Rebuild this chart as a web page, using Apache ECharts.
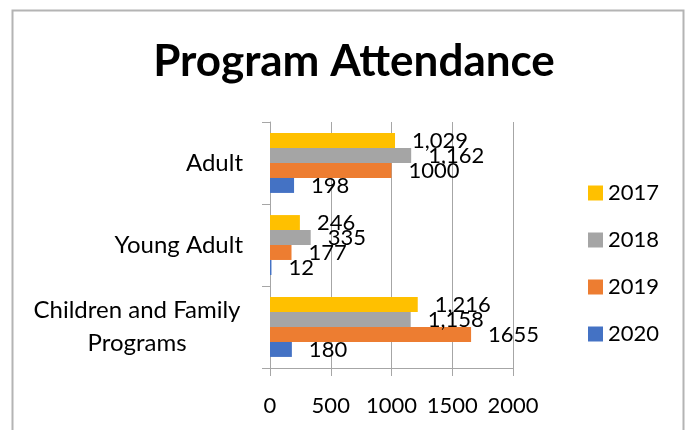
<!DOCTYPE html>
<html>
<head>
<meta charset="utf-8">
<script src="https://cdn.jsdelivr.net/npm/echarts@6/dist/echarts.min.js"></script>
<style>
  html, body { margin: 0; padding: 0; background: #fff; }
  #chart { width: 688px; height: 430px; }
</style>
</head>
<body>
<div id="chart"></div>
<script>
// categories, bottom to top (as drawn on the category axis)
const categories = ["Children and Family Programs", "Young Adult", "Adult"];
const years = ["2017", "2018", "2019", "2020"];
const colors = { "2017": "#FFC000", "2018": "#A5A5A5", "2019": "#ED7D31", "2020": "#4472C4" };

const values2017 = [1216, 246, 1029];
const values2018 = [1158, 335, 1162];
const values2019 = [1655, 177, 1000];
const values2020 = [180, 12, 198];

// data labels as they are written in the picture
const labels2017 = ["1,216", "246", "1,029"];
const labels2018 = ["1,158", "335", "1,162"];
const labels2019 = ["1655", "177", "1000"];
const labels2020 = ["180", "12", "198"];

const xTicks = [0, 500, 1000, 1500, 2000];

const font = "Lato, 'Open Sans', sans-serif";
const axisGray = "#A6A6A6";

function makeSeries(name, data, labels) {
    return {
        name: name,
        type: "bar",
        data: data,
        barGap: "0%",
        barCategoryGap: "27%",
        itemStyle: { color: colors[name] },
        label: {
            show: true,
            position: "right",
            distance: 17,
            color: "#000",
            fontFamily: font,
            fontSize: 22,
            formatter: (p) => labels[p.dataIndex],
        },
    };
}

const chart = echarts.init(document.getElementById("chart"));
chart.setOption({
    animation: false,
    title: {
        text: "Program Attendance",
        left: 349,
        textAlign: "center",
        top: 35,
        textStyle: { fontFamily: font, fontSize: 44, fontWeight: "bold", color: "#000" },
    },
    graphic: [
        {
            type: "rect",
            shape: { x: 12.5, y: 10.5, width: 671, height: 440 },
            style: { fill: "none", stroke: "#B4B4B4", lineWidth: 2 },
            silent: true,
        },
    ],
    legend: {
        data: years,
        orient: "vertical",
        left: 583,
        top: 177,
        itemWidth: 15,
        itemHeight: 15,
        itemGap: 25,
        icon: "rect",
        textStyle: { fontFamily: font, fontSize: 22, color: "#000" },
    },
    grid: { left: 270, right: 175, top: 122, bottom: 62, containLabel: false },
    xAxis: {
        type: "value",
        min: xTicks[0],
        max: xTicks[xTicks.length - 1],
        interval: 500,
        axisLine: { show: true, lineStyle: { color: axisGray } },
        axisTick: { show: true, length: 8, lineStyle: { color: axisGray } },
        splitLine: { show: true, lineStyle: { color: axisGray, width: 1 } },
        axisLabel: {
            margin: 27, color: "#000", fontFamily: font, fontSize: 22,
            formatter: (v) => String(v),
        },
    },
    yAxis: {
        type: "category",
        data: categories,
        axisLine: { show: true, lineStyle: { color: axisGray } },
        axisTick: { show: true, length: 8, lineStyle: { color: axisGray } },
        axisLabel: {
            margin: 27,
            color: "#000",
            fontFamily: font,
            fontSize: 24,
            align: "right",
            formatter: (v) => v === categories[0] ? "{c|Children and Family}\n{c|Programs}" : v,
            rich: {
                c: { width: 212, align: "center", lineHeight: 33, fontFamily: font, fontSize: 24, color: "#000" },
            },
        },
    },
    // first series is drawn at the top of each band
    series: [
        makeSeries("2017", values2017, labels2017),
        makeSeries("2018", values2018, labels2018),
        makeSeries("2019", values2019, labels2019),
        makeSeries("2020", values2020, labels2020),
    ],
});
</script>
</body>
</html>
